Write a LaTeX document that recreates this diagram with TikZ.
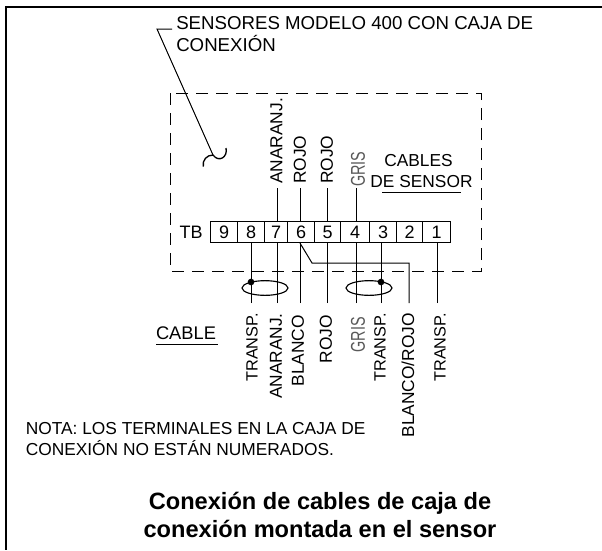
\documentclass[tikz,border=0pt]{standalone}
\usepackage{fontspec}
\usepackage{graphicx}
\setmainfont{Liberation Sans}
\usetikzlibrary{shapes.geometric}
\tikzset{
 x=0.75pt,y=-0.75pt,
 wire/.style={line width=0.75pt,black},
 upl/.style={rotate=90,anchor=west,inner sep=0pt,font=\fontsize{13}{15}\selectfont},
 lowl/.style={rotate=90,anchor=east,inner sep=0pt,font=\fontsize{13}{15}\selectfont},
 lbl/.style={inner sep=0pt,font=\fontsize{13}{15}\selectfont},
 term/.style={draw,line width=0.85pt,minimum height=15.75pt,inner sep=0pt,anchor=west,font=\fontsize{13.5}{15}\selectfont},
 dotn/.style={circle,fill=black,inner sep=0pt,minimum size=5pt},
 loopn/.style={ellipse,draw,line width=0.85pt,inner sep=0pt,minimum width=34.5pt,minimum height=11pt},
}
\begin{document}
\begin{tikzpicture}
\useasboundingbox (0,0) rectangle (602,550);
\fill[white] (0,0) rectangle (602,550);
\draw[line width=2.2pt] (602,7) -- (6,7) -- (6,550);
% title and leader
\node[anchor=west,inner sep=0pt,align=left,font=\fontsize{14}{16.5}\selectfont] (title) at (176,34.5) {SENSORES MODELO 400 CON CAJA DE\\CONEXIÓN};
\coordinate (l1) at (172,29);
\coordinate (l2) at (157,29);
\coordinate (l3) at (213,155);
\draw[wire] (l1) -- (l2) -- (l3);
\draw[wire,line width=1pt] (203.3,166.7) .. controls (202,160) and (207,155) .. (l3) .. controls (219,163) and (228,157) .. (226,148);
% dashed box
\draw[line width=0.65pt,dash pattern=on 9pt off 6pt] (170,93) rectangle (481,271);
% terminal block
\node[anchor=east,inner sep=0pt,font=\fontsize{13.5}{15}\selectfont] (tb) at (203,232) {TB};
\foreach \n/\a/\b in {9/210/237,8/237/264,7/264/287,6/287/314,5/314/340,4/340/369,3/369/396,2/396/422,1/422/450}{
 \pgfmathsetmacro\w{(\b-\a)*0.75}
 \node[term,minimum width=\w pt] (t\n) at (\a,232) {\n};
}
% upper wires
\foreach \n/\x in {7/277,6/300,5/327,4/356}{
 \coordinate (u\n) at (\x,188);
 \draw[wire] (u\n) -- (u\n |- t\n.north);
}
\node[upl] (ua) at (276.5,184) {ANARANJ.};
\node[upl] (ub) at (300,184) {ROJO};
\node[upl] (uc) at (327,184) {ROJO};
\node[upl,text=black!65] (ud) at (358,187) {\scalebox{0.83}[1.15]{GRIS}};
\node[lbl] (cs1) at (418.5,160.5) {CABLES};
\node[lbl] (cs2) at (421.5,182) {DE SENSOR};
\coordinate (cs3) at (382,192);
\coordinate (cs4) at (461,192);
\draw[wire] (cs3) -- (cs4);
% lower wires
\foreach \n/\x in {8/251,7/277,6/300,5/327,4/356,3/381,1/437}{
 \coordinate (d\n) at (\x,303);
 \draw[wire] (d\n) -- (d\n |- t\n.south);
}
\coordinate (b6a) at (312,263);
\coordinate (b6b) at (409,263);
\coordinate (b6c) at (409,303);
\draw[wire] (d6 |- t6.south) -- (b6a) -- (b6b) -- (b6c);
\node[loopn] (e1) at (265,288) {};
\node[loopn] (e2) at (369,288) {};
\node[dotn] (p1) at (251,282) {};
\node[dotn] (p2) at (381,282) {};
% lower labels
\node[lowl,font=\fontsize{12.2}{15}\selectfont] (la) at (252,313) {TRANSP.};
\node[lowl] (lb) at (276,313) {ANARANJ.};
\node[lowl] (lc) at (298,315) {BLANCO};
\node[lowl] (ld) at (326,315) {ROJO};
\node[lowl,text=black!65] (le) at (358,317) {\scalebox{0.83}[1.15]{GRIS}};
\node[lowl,font=\fontsize{12.2}{15}\selectfont] (lf) at (380,313) {TRANSP.};
\node[lowl] (lg) at (408,313) {BLANCO/ROJO};
\node[lowl,font=\fontsize{12.2}{15}\selectfont] (lh) at (440,313) {TRANSP.};
\node[inner sep=0pt,font=\fontsize{13.7}{15}\selectfont] (cab) at (186,333) {CABLE};
\coordinate (cb1) at (156,344);
\coordinate (cb2) at (218,344);
\draw[wire] (cb1) -- (cb2);
% notes
\node[anchor=west,inner sep=0pt,align=left,font=\fontsize{13}{15.75}\selectfont] (nota) at (25.5,439.5) {NOTA: LOS TERMINALES EN LA CAJA DE\\CONEXIÓN NO ESTÁN NUMERADOS.};
\node[inner sep=0pt,align=center,font=\bfseries\fontsize{17.7}{20.5}\selectfont] (cap) at (320,515) {Conexión de cables de caja de\\conexión montada en el sensor};
\end{tikzpicture}
\end{document}
